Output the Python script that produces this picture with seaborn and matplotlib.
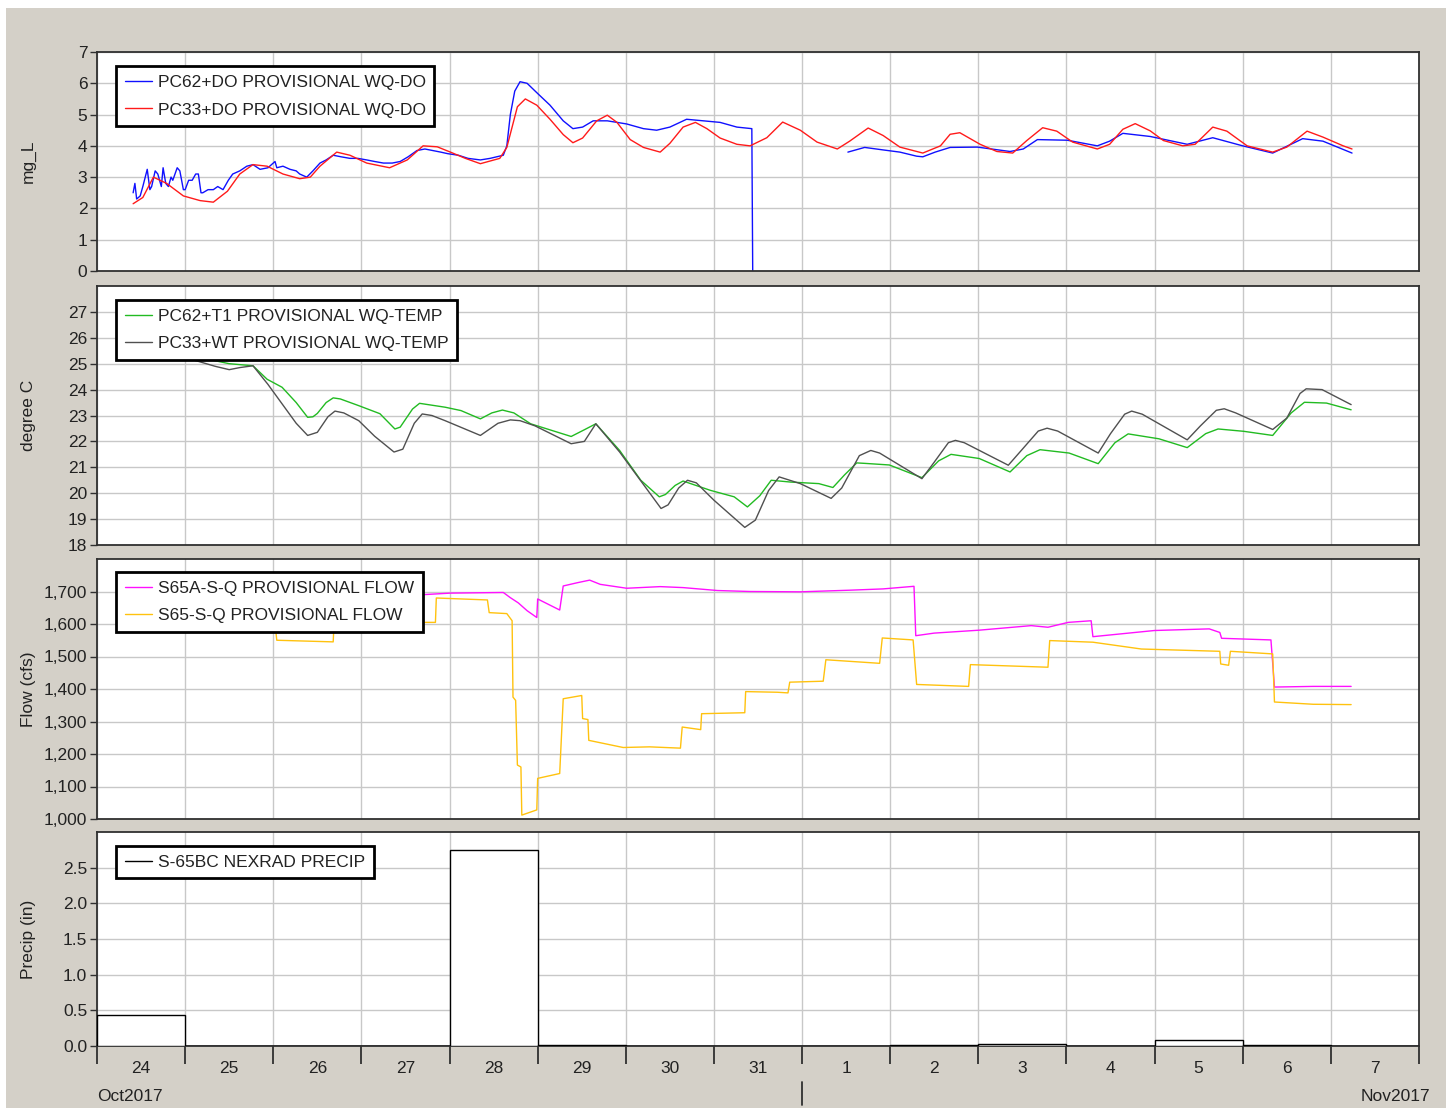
import numpy as np
import pandas as pd
import matplotlib
matplotlib.use("Agg")
import matplotlib.pyplot as plt
import matplotlib.dates as mdates
from matplotlib.lines import Line2D
from matplotlib.patches import Rectangle
from matplotlib.ticker import FuncFormatter, FixedLocator
import seaborn as sns

START = pd.Timestamp("2017-10-24")
END = pd.Timestamp("2017-11-08")

# time values are days since 24 Oct 2017 00:00
do62_days = [0.41, 0.43, 0.45, 0.49, 0.52, 0.57, 0.60, 0.62, 0.66, 0.69, 0.73, 0.75, 0.78,
             0.81, 0.84, 0.86, 0.91, 0.94, 0.98, 1.00, 1.04, 1.08, 1.12, 1.15, 1.18, 1.20,
             1.26, 1.32, 1.37, 1.43, 1.49, 1.54, 1.62, 1.70, 1.77, 1.85, 1.94, 2.02, 2.04,
             2.11, 2.19, 2.26, 2.30, 2.38, 2.45, 2.53, 2.60, 2.68, 2.77, 2.87, 2.96, 3.06,
             3.15, 3.25, 3.35, 3.44, 3.53, 3.63, 3.72, 3.81, 3.90, 3.98, 4.10, 4.21, 4.35,
             4.46, 4.61, 4.65, 4.69, 4.74, 4.80, 4.88, 4.99, 5.14, 5.29, 5.40, 5.51, 5.63,
             5.79, 6.01, 6.20, 6.35, 6.50, 6.69, 6.88, 7.07, 7.26, 7.43, 7.44,
             8.52, 8.71, 8.92, 9.11, 9.30, 9.37, 9.51, 9.68, 9.99, 10.36, 10.51, 10.67,
             11.01, 11.35, 11.49, 11.64, 11.95, 12.37, 12.66, 13.00, 13.34, 13.68, 13.91, 14.24]
do62_vals = [2.5, 2.8, 2.3, 2.4, 2.7, 3.25, 2.6, 2.7, 3.2, 3.1, 2.7, 3.3, 2.8,
             2.7, 3.0, 2.9, 3.3, 3.2, 2.6, 2.6, 2.9, 2.9, 3.1, 3.1, 2.5, 2.5,
             2.6, 2.6, 2.7, 2.6, 2.9, 3.1, 3.2, 3.35, 3.4, 3.25, 3.3, 3.5, 3.3,
             3.35, 3.25, 3.2, 3.1, 3.0, 3.2, 3.45, 3.55, 3.7, 3.65, 3.6, 3.6, 3.55,
             3.5, 3.45, 3.45, 3.5, 3.65, 3.85, 3.9, 3.85, 3.8, 3.75, 3.7, 3.6, 3.55,
             3.6, 3.7, 4.0, 5.0, 5.75, 6.05, 6.0, 5.7, 5.3, 4.8, 4.55, 4.6, 4.8,
             4.8, 4.7, 4.55, 4.5, 4.6, 4.85, 4.8, 4.75, 4.6, 4.55, 0.0,
             3.8, 3.95, 3.87, 3.8, 3.67, 3.65, 3.8, 3.95, 3.96, 3.82, 3.9, 4.2,
             4.18, 4.0, 4.15, 4.4, 4.3, 4.05, 4.26, 4.0, 3.77, 4.23, 4.15, 3.77]
do62_seg = [0] * 89 + [1] * 24

do33_days = [0.41, 0.52, 0.64, 0.79, 0.98, 1.17, 1.32, 1.48, 1.62, 1.77, 1.93, 2.11, 2.30,
             2.42, 2.53, 2.72, 2.87, 3.06, 3.32, 3.52, 3.70, 3.86, 4.01, 4.18, 4.35, 4.57,
             4.65, 4.77, 4.86, 4.99, 5.14, 5.29, 5.40, 5.51, 5.67, 5.79, 5.90, 6.05, 6.20,
             6.39, 6.50, 6.65, 6.79, 6.92, 7.07, 7.26, 7.41, 7.60, 7.78, 7.98, 8.17, 8.40,
             8.54, 8.75, 8.92, 9.11, 9.37, 9.57, 9.68, 9.79, 10.02, 10.21, 10.39, 10.55,
             10.73, 10.89, 11.07, 11.35, 11.49, 11.64, 11.78, 11.95, 12.10, 12.32, 12.46,
             12.66, 12.82, 13.05, 13.34, 13.50, 13.73, 13.91, 14.14, 14.24]
do33_vals = [2.15, 2.35, 3.0, 2.8, 2.4, 2.25, 2.2, 2.55, 3.1, 3.4, 3.35, 3.1, 2.95,
             3.0, 3.35, 3.8, 3.7, 3.45, 3.3, 3.55, 4.0, 3.97, 3.8, 3.6, 3.43, 3.6,
             3.95, 5.25, 5.5, 5.3, 4.85, 4.36, 4.1, 4.25, 4.8, 4.98, 4.75, 4.2, 3.95,
             3.8, 4.08, 4.6, 4.75, 4.55, 4.25, 4.05, 4.0, 4.26, 4.76, 4.5, 4.12, 3.9,
             4.15, 4.57, 4.33, 3.96, 3.77, 4.0, 4.37, 4.42, 4.05, 3.82, 3.77, 4.17,
             4.58, 4.47, 4.12, 3.9, 4.05, 4.53, 4.71, 4.48, 4.17, 4.0, 4.05,
             4.6, 4.47, 4.0, 3.8, 3.96, 4.47, 4.28, 4.0, 3.9]

t62_days = [0.41, 0.94, 1.50, 1.77, 1.93, 2.10, 2.26, 2.39, 2.45, 2.50, 2.60, 2.68, 2.76,
            2.97, 3.21, 3.38, 3.44, 3.49, 3.58, 3.66, 3.95, 4.13, 4.35, 4.48, 4.60, 4.73,
            4.92, 5.38, 5.53, 5.66, 5.93, 6.17, 6.38, 6.45, 6.56, 6.65, 6.96, 7.23, 7.38,
            7.52, 7.65, 7.87, 8.19, 8.35, 8.48, 8.62, 8.72, 8.99, 9.36, 9.55, 9.69, 10.01,
            10.36, 10.55, 10.70, 11.03, 11.36, 11.55, 11.70, 12.05, 12.37, 12.58, 12.72,
            13.01, 13.34, 13.55, 13.70, 13.95, 14.23]
t62_vals = [25.6, 25.4, 25.0, 24.92, 24.4, 24.09, 23.5, 22.93, 22.95, 23.08, 23.5, 23.68, 23.64,
            23.38, 23.07, 22.48, 22.55, 22.8, 23.25, 23.47, 23.32, 23.19, 22.87, 23.1, 23.21, 23.1,
            22.68, 22.19, 22.45, 22.68, 21.65, 20.5, 19.86, 19.95, 20.3, 20.47, 20.11, 19.86, 19.47,
            19.9, 20.5, 20.43, 20.37, 20.22, 20.7, 21.17, 21.15, 21.09, 20.6, 21.25, 21.5, 21.34,
            20.82, 21.45, 21.68, 21.55, 21.14, 21.95, 22.29, 22.1, 21.76, 22.3, 22.48,
            22.39, 22.23, 23.1, 23.51, 23.48, 23.22]

t33_days = [0.41, 0.94, 1.34, 1.50, 1.62, 1.77, 1.94, 2.10, 2.26, 2.39, 2.50, 2.62, 2.70,
            2.80, 2.97, 3.15, 3.37, 3.47, 3.60, 3.69, 3.80, 3.95, 4.35, 4.55, 4.69, 4.80,
            4.97, 5.38, 5.53, 5.66, 5.93, 6.40, 6.48, 6.60, 6.70, 6.80, 7.00, 7.35, 7.47,
            7.62, 7.74, 7.98, 8.33, 8.45, 8.65, 8.78, 8.88, 9.36, 9.50, 9.66, 9.74, 9.84,
            10.34, 10.50, 10.68, 10.78, 10.90, 11.36, 11.50, 11.66, 11.74, 11.86, 12.37,
            12.52, 12.70, 12.79, 12.92, 13.34, 13.50, 13.65, 13.72, 13.90, 14.23]
t33_vals = [25.8, 25.3, 24.9, 24.77, 24.85, 24.92, 24.2, 23.45, 22.7, 22.23, 22.35, 22.95, 23.17,
            23.1, 22.8, 22.2, 21.59, 21.7, 22.7, 23.06, 23.0, 22.8, 22.23, 22.7, 22.83, 22.8,
            22.6, 21.91, 22.0, 22.68, 21.59, 19.41, 19.55, 20.2, 20.5, 20.4, 19.73, 18.68, 18.96,
            20.1, 20.63, 20.37, 19.8, 20.2, 21.45, 21.65, 21.55, 20.56, 21.2, 21.95, 22.04, 21.95,
            21.08, 21.7, 22.4, 22.51, 22.4, 21.55, 22.3, 23.05, 23.17, 23.05, 22.06,
            22.6, 23.2, 23.26, 23.1, 22.46, 22.9, 23.85, 24.03, 24.0, 23.42]

q65a_days = [0.41, 3.55, 4.01, 4.61, 4.69, 4.78, 4.88, 4.99, 5.00, 5.25, 5.29, 5.45, 5.59,
             5.71, 6.01, 6.39, 6.65, 7.04, 7.41, 7.98, 8.54, 8.92, 9.27, 9.29, 9.50, 10.01,
             10.60, 10.79, 11.02, 11.28, 11.30, 12.00, 12.62, 12.74, 12.76, 13.32, 13.36,
             13.80, 14.23]
q65a_vals = [1690, 1688, 1695, 1697, 1681, 1665, 1641, 1620, 1677, 1643, 1717, 1727, 1735,
             1722, 1710, 1715, 1712, 1703, 1700, 1699, 1704, 1708, 1716, 1564, 1572, 1581,
             1595, 1590, 1605, 1610, 1561, 1580, 1585, 1574, 1556, 1551, 1406,
             1408, 1408]

q65_days = [0.41, 2.02, 2.04, 2.68, 2.69, 3.84, 3.85, 4.43, 4.45, 4.65, 4.71, 4.72, 4.75,
            4.77, 4.81, 4.82, 4.99, 5.00, 5.25, 5.29, 5.50, 5.51, 5.57, 5.58, 5.97, 6.27,
            6.62, 6.64, 6.85, 6.86, 7.35, 7.36, 7.72, 7.84, 7.86, 8.24, 8.27, 8.88, 8.91,
            9.26, 9.30, 9.89, 9.91, 10.79, 10.81, 11.30, 11.85, 12.74, 12.75, 12.84, 12.86,
            13.34, 13.36, 13.80, 14.23]
q65_vals = [1600, 1600, 1550, 1545, 1605, 1605, 1680, 1674, 1635, 1632, 1610, 1375, 1365,
            1166, 1160, 1012, 1028, 1125, 1140, 1370, 1380, 1309, 1306, 1242, 1220, 1222,
            1218, 1283, 1275, 1324, 1327, 1392, 1390, 1388, 1421, 1424, 1490, 1479, 1557,
            1551, 1414, 1408, 1475, 1467, 1549, 1544, 1523, 1516, 1477, 1473, 1516,
            1508, 1360, 1353, 1352]

precip_days = list(range(15))
precip_vals = [0.44, 0, 0, 0, 2.75, 0.02, 0, 0, 0, 0.01, 0.03, 0, 0.09, 0.01, 0]

BG = "#d4d0c8"
GRID = "#c8c8c8"
FRAME = "#303030"
TXT = "#222222"
FS = 12.5


def to_time(days):
    return START + pd.to_timedelta(np.asarray(days, dtype=float), unit="D")


def draw_line(ax, days, vals, color, units=None):
    df = pd.DataFrame({"t": to_time(days), "v": vals})
    df["u"] = units if units is not None else 0
    sns.lineplot(data=df, x="t", y="v", units="u", estimator=None, sort=False,
                 color=color, lw=1.0, ax=ax, legend=False)


def add_legend(ax, labels, colors, top):
    handles = [Line2D([], [], color=c, lw=1.0) for c in colors]
    leg = ax.legend(handles, labels, loc="upper left", bbox_to_anchor=(0.0144, top),
                    borderaxespad=0, frameon=True, fancybox=False, framealpha=1,
                    edgecolor="black", fontsize=FS, handlelength=1.6, handletextpad=0.3,
                    labelspacing=0.72, borderpad=0.5)
    leg.get_frame().set_linewidth(2.0)
    for t in leg.get_texts():
        t.set_color(TXT)
    leg.set_zorder(10)


sns.set_theme(style="white")
plt.rcParams["font.family"] = ["Liberation Sans", "DejaVu Sans"]

fig = plt.figure(figsize=(14.52, 11.10), dpi=100, facecolor="white")
fig.patches.append(Rectangle((6 / 1452, 2 / 1110), 1440 / 1452, 1100 / 1110,
                             transform=fig.transFigure, facecolor=BG, edgecolor="none", zorder=-10))

L, W = 97 / 1452, 1322 / 1452
boxes = [(52, 271), (286, 545), (559, 819), (832, 1046)]
axes = []
for top, bot in boxes:
    ax = fig.add_axes([L, 1 - bot / 1110, W, (bot - top) / 1110])
    ax.set_facecolor("white")
    axes.append(ax)
ax1, ax2, ax3, ax4 = axes

# DO
draw_line(ax1, do62_days, do62_vals, "#1010ff", do62_seg)
draw_line(ax1, do33_days, do33_vals, "#ff1a1a")
ax1.set_ylim(0, 7)
ax1.set_yticks(range(0, 8))
ax1.set_ylabel("mg_L")
add_legend(ax1, ["PC62+DO PROVISIONAL WQ-DO", "PC33+DO PROVISIONAL WQ-DO"],
           ["#1010ff", "#ff1a1a"], 0.936)

# temperature
draw_line(ax2, t62_days, t62_vals, "#22bb22")
draw_line(ax2, t33_days, t33_vals, "#505050")
ax2.set_ylim(18, 28)
ax2.set_yticks(range(18, 28))
ax2.set_ylabel("degree C")
add_legend(ax2, ["PC62+T1 PROVISIONAL WQ-TEMP", "PC33+WT PROVISIONAL WQ-TEMP"],
           ["#22bb22", "#505050"], 0.946)

# flow
draw_line(ax3, q65a_days, q65a_vals, "#ff10ff")
draw_line(ax3, q65_days, q65_vals, "#ffc20e")
ax3.set_ylim(1000, 1800)
ax3.set_yticks(range(1000, 1800, 100))
ax3.yaxis.set_major_formatter(FuncFormatter(lambda v, p: f"{v:,.0f}"))
ax3.set_ylabel("Flow (cfs)")
add_legend(ax3, ["S65A-S-Q PROVISIONAL FLOW", "S65-S-Q PROVISIONAL FLOW"],
           ["#ff10ff", "#ffc20e"], 0.95)

# precip
ax4.bar(to_time(precip_days), precip_vals, width=1.0, align="edge",
        facecolor="white", edgecolor="black", linewidth=1.0, zorder=3)
ax4.set_ylim(0, 3.0)
ax4.set_yticks([0, 0.5, 1.0, 1.5, 2.0, 2.5])
ax4.yaxis.set_major_formatter(FuncFormatter(lambda v, p: f"{v:.1f}"))
ax4.set_ylabel("Precip (in)")
add_legend(ax4, ["S-65BC NEXRAD PRECIP"], ["black"], 0.935)

day_edges = mdates.date2num(pd.date_range(START, END, freq="D"))
noons = mdates.date2num(pd.date_range(START + pd.Timedelta(hours=12), END, freq="D"))
x_start = mdates.date2num(START)
x_end = mdates.date2num(END)
x_nov1 = mdates.date2num(pd.Timestamp("2017-11-01"))

for ax in axes:
    ax.set_xlim(x_start, x_end)
    ax.set_xlabel("")
    ax.xaxis.set_major_locator(FixedLocator(day_edges))
    ax.grid(True, which="major", color=GRID, lw=1.0)
    ax.set_axisbelow(True)
    ax.yaxis.label.set_size(FS)
    ax.yaxis.label.set_color(TXT)
    ax.yaxis.set_label_coords(-0.046, 0.5)
    ax.tick_params(axis="y", direction="out", length=5, width=1, color=FRAME,
                   labelsize=FS, labelcolor=TXT, pad=2, left=True)
    for s in ax.spines.values():
        s.set_color(FRAME)
        s.set_linewidth(1.3)
    if ax is not ax4:
        ax.tick_params(axis="x", length=0, labelbottom=False)

ax4.xaxis.set_minor_locator(FixedLocator(noons))
ax4.xaxis.set_major_formatter(FuncFormatter(lambda v, p: ""))
ax4.xaxis.set_minor_formatter(FuncFormatter(lambda v, p: str(mdates.num2date(v).day)))
ax4.tick_params(axis="x", which="major", direction="out", length=13, width=1.3,
                color=FRAME, bottom=True)
ax4.tick_params(axis="x", which="minor", length=0, labelsize=FS, labelcolor=TXT,
                pad=11, bottom=True)

# month labels under the day labels
xt = ax4.get_xaxis_transform()
ax4.text(x_start, -0.238, "Oct2017", transform=xt, ha="left", va="center",
         fontsize=FS, color=TXT)
ax4.annotate("Nov2017", xy=(x_end, -0.238), xycoords=xt, xytext=(8, 0),
             textcoords="offset points", ha="right", va="center", fontsize=FS, color=TXT,
             annotation_clip=False)
ax4.plot([x_nov1, x_nov1], [-0.168, -0.276], transform=xt,
         color=FRAME, lw=1.3, clip_on=False)

fig.savefig("out.png", dpi=100, facecolor=fig.get_facecolor())
